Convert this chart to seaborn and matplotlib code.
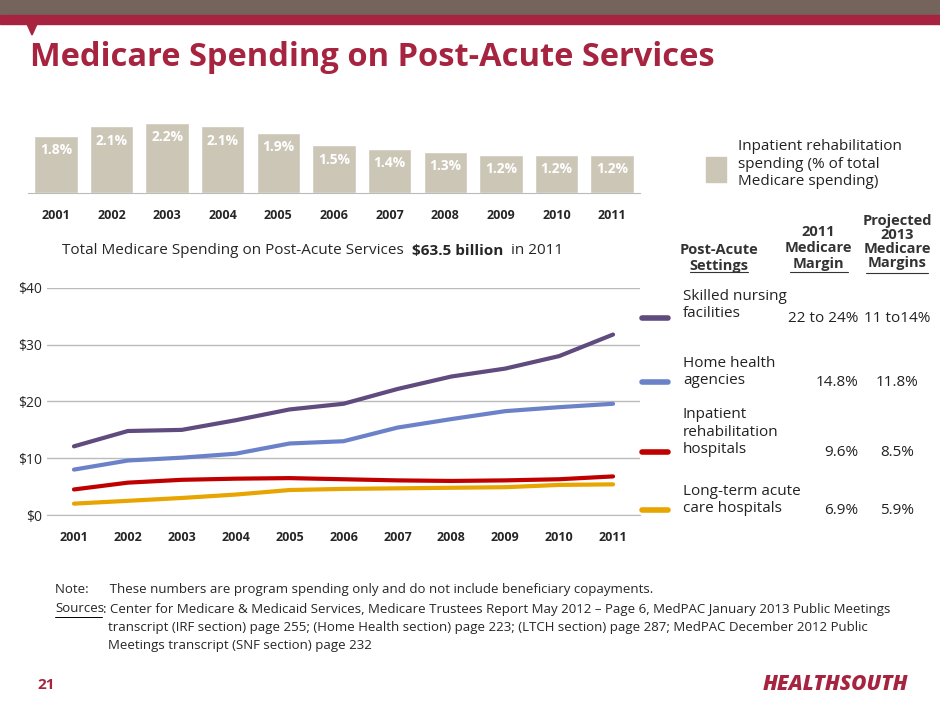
import matplotlib.pyplot as plt
import matplotlib.patches as mpatches
import seaborn as sns
import pandas as pd

years = ["2001", "2002", "2003", "2004", "2005", "2006", "2007", "2008", "2009", "2010", "2011"]
irf_share = [1.8, 2.1, 2.2, 2.1, 1.9, 1.5, 1.4, 1.3, 1.2, 1.2, 1.2]
snf = [12.1, 14.8, 15.0, 16.7, 18.6, 19.6, 22.2, 24.4, 25.8, 28.0, 31.8]
hha = [8.0, 9.6, 10.1, 10.8, 12.6, 13.0, 15.4, 16.9, 18.3, 19.0, 19.6]
irf = [4.5, 5.7, 6.2, 6.4, 6.5, 6.3, 6.1, 6.0, 6.1, 6.3, 6.8]
ltch = [2.0, 2.5, 3.0, 3.6, 4.4, 4.6, 4.7, 4.8, 4.9, 5.3, 5.4]
settings = ["Skilled nursing\nfacilities", "Home health\nagencies",
            "Inpatient\nrehabilitation\nhospitals", "Long-term acute\ncare hospitals"]
margin_2011 = ["22 to 24%", "14.8%", "9.6%", "6.9%"]
margin_2013 = ["11 to14%", "11.8%", "8.5%", "5.9%"]

sns.set_style("white")
plt.rcParams['font.family'] = ['Open Sans', 'DejaVu Sans']
W, H = 940, 705
fig = plt.figure(figsize=(9.4, 7.05), dpi=100)

def fx(px): return px / W
def fy(py): return 1 - py / H

maroon = "#A6243F"
# header bands
fig.add_artist(mpatches.Rectangle((0, fy(15)), 1, 15 / H, color="#75645C", transform=fig.transFigure))
fig.add_artist(mpatches.Rectangle((0, fy(24)), 1, 9 / H, color=maroon, transform=fig.transFigure))
fig.add_artist(mpatches.Polygon([(fx(27), fy(24)), (fx(37), fy(24)), (fx(32), fy(35))], color=maroon, transform=fig.transFigure))
fig.text(fx(30), fy(58), "Medicare Spending on Post-Acute Services", fontsize=23.5, fontweight="bold",
         color=maroon, va="center")

# bar chart
tan = "#CCC6B6"
axb = fig.add_axes([fx(28), fy(193), fx(612), fy(120) - fy(193)])
sns.barplot(x=years, y=irf_share, color=tan, width=0.78, ax=axb, saturation=1)
axb.set_ylim(0, 2.3)
for i, v in enumerate(irf_share):
    axb.text(i, v - 0.45, f"{v}%", ha="center", va="center", color="white", fontsize=10, fontweight="bold")
axb.set_yticks([])
for s in ["top", "right", "left"]:
    axb.spines[s].set_visible(False)
axb.spines["bottom"].set_color("#BBBBBB")
axb.tick_params(axis="x", labelsize=9, pad=8)
for t in axb.get_xticklabels():
    t.set_fontweight("bold")
fig.add_artist(mpatches.Rectangle((fx(706), fy(182)), 20 / W, 25 / H, color=tan, transform=fig.transFigure))
fig.text(fx(738), fy(164), "Inpatient rehabilitation\nspending (% of total\nMedicare spending)",
         fontsize=11, va="center", color="#222222", linespacing=1.2)

# line chart subtitle, pieces placed one after another
r = fig.canvas.get_renderer()
xpos = fx(62)
for txt, wt in [("Total Medicare Spending on Post-Acute Services ", "normal"),
                ("$63.5 billion ", "bold"), ("in 2011", "normal")]:
    t = fig.text(xpos, fy(251), txt, fontsize=11, fontweight=wt, va="center")
    bb = t.get_window_extent(renderer=r)
    xpos = bb.x1 / fig.bbox.width + 4 / W

df = pd.DataFrame({"year": years * 4,
                   "value": snf + hha + irf + ltch,
                   "series": ["snf"] * 11 + ["hha"] * 11 + ["irf"] * 11 + ["ltch"] * 11})
colors = ["#5F4B7E", "#6B82C9", "#C00000", "#E8A400"]
axl = fig.add_axes([fx(47), fy(515), fx(640) - fx(47), fy(288) - fy(515)])
sns.lineplot(data=df, x="year", y="value", hue="series", palette=colors, linewidth=3, ax=axl, legend=False)
axl.set_ylim(0, 40)
axl.set_xlim(-0.5, 10.5)
axl.set_yticks([0, 10, 20, 30, 40])
axl.set_yticklabels(["$0", "$10", "$20", "$30", "$40"], fontsize=10)
axl.yaxis.grid(True, color="#BBBBBB", linewidth=1)
for s in ["top", "right", "left"]:
    axl.spines[s].set_visible(False)
axl.spines["bottom"].set_color("#BBBBBB")
axl.set_xlabel("")
axl.set_ylabel("")
axl.tick_params(axis="x", labelsize=9, pad=8)
axl.tick_params(axis="y", length=0)
for t in axl.get_xticklabels():
    t.set_fontweight("bold")

# table
fig.text(fx(719), fy(258), "Post-Acute\nSettings", fontsize=10.5, fontweight="bold", ha="center", va="center", color="#333333")
fig.text(fx(818), fy(248), "2011\nMedicare\nMargin", fontsize=10.5, fontweight="bold", ha="center", va="center", color="#333333")
fig.text(fx(897), fy(242), "Projected\n2013\nMedicare\nMargins", fontsize=10.5, fontweight="bold", ha="center", va="center", color="#333333", linespacing=1.0)
fig.add_artist(plt.Line2D([fx(690), fx(748)], [fy(272), fy(272)], color="#333333", lw=0.8))
fig.add_artist(plt.Line2D([fx(790), fx(848)], [fy(272), fy(272)], color="#333333", lw=0.8))
fig.add_artist(plt.Line2D([fx(866), fx(928)], [fy(273), fy(273)], color="#333333", lw=0.8))
rows_y = [318, 382, 452, 510]
text_y = [305, 372, 432, 500]
for c, lab, m1, m2, ry, ty in zip(colors, settings, margin_2011, margin_2013, rows_y, text_y):
    fig.add_artist(plt.Line2D([fx(642), fx(668)], [fy(ry), fy(ry)], color=c, lw=4))
    fig.text(fx(683), fy(ty), lab, fontsize=11, va="center", color="#222222", linespacing=1.2)
    fig.text(fx(858), fy(ry), m1, fontsize=11, ha="right", va="center", color="#222222")
    fig.text(fx(897), fy(ry), m2, fontsize=11, ha="center", va="center", color="#222222")

# notes
fs = 9.5
fig.text(fx(55), fy(589), "Note:      These numbers are program spending only and do not include beneficiary copayments.", fontsize=fs, va="center")
fig.text(fx(55), fy(609), "Sources", fontsize=fs, va="center")
fig.add_artist(plt.Line2D([fx(55), fx(102)], [fy(617), fy(617)], color="black", lw=0.7))
fig.text(fx(103), fy(609), ": Center for Medicare & Medicaid Services, Medicare Trustees Report May 2012 – Page 6, MedPAC January 2013 Public Meetings",
         fontsize=fs, va="center")
fig.text(fx(108), fy(628), "transcript (IRF section) page 255; (Home Health section) page 223; (LTCH section) page 287; MedPAC December 2012 Public",
         fontsize=fs, va="center")
fig.text(fx(108), fy(646), "Meetings transcript (SNF section) page 232", fontsize=fs, va="center")

fig.text(fx(37), fy(685), "21", fontsize=11, fontweight="bold", color=maroon, va="center")
fig.text(fx(908), fy(685), "HEALTHSOUTH", fontsize=15, fontweight="heavy", fontstyle="italic", color=maroon,
         ha="right", va="center")

fig.savefig("out.png", dpi=100)
